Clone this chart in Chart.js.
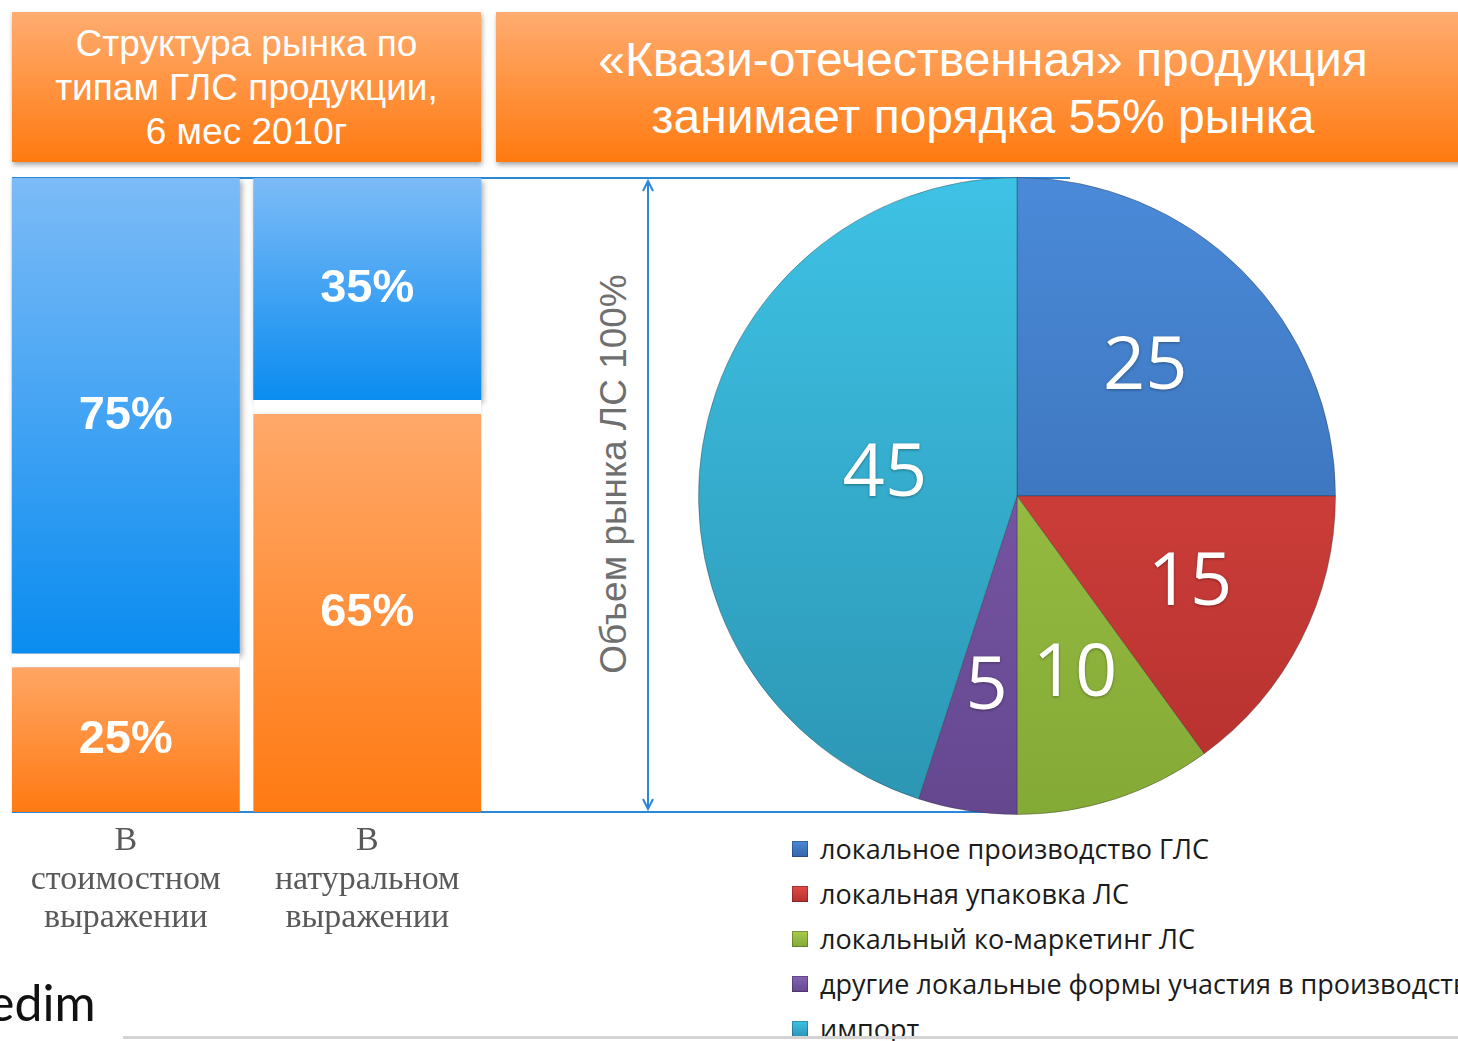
<!DOCTYPE html>
<html>
<head>
<meta charset="utf-8">
<script src="https://cdn.jsdelivr.net/npm/chart.js@4.4.1/dist/chart.umd.min.js"></script>
<style>
  html, body { margin: 0; padding: 0; }
  body { width: 1458px; height: 1041px; overflow: hidden; position: relative; background: #fff; font-family: 'Liberation Sans', Arial, sans-serif; }
  .hdr { position: absolute; top: 12px; height: 150px; box-sizing: border-box; color: #fff; text-align: center; white-space: nowrap;
         background: linear-gradient(#ffac70, #ff7a10); box-shadow: 1px 3px 5px rgba(0,0,0,.35); }
  #hdrL { left: 12px; width: 469px; font-size: 37px; line-height: 44px; padding-top: 10px; }
  #hdrR { left: 496px; width: 974px; font-size: 48px; line-height: 57px; padding-top: 19px; }
  #deco { position: absolute; left: 0; top: 0; }
  #barBox { position: absolute; left: 0; top: 170px; width: 495px; height: 775px; }
  #pieBox { position: absolute; left: 697px; top: 176px; width: 640px; height: 640px; }
  #vlabel { position: absolute; left: 614px; top: 474px; transform: translate(-50%, -50%) rotate(-90deg);
            white-space: nowrap; font-size: 37px; color: #6f6f6f; }
  #legend { position: absolute; left: 792px; top: 826px; font-family: 'Open Sans', sans-serif; font-size: 27px; color: #1b1b1b; white-space: nowrap; }
  .li { height: 45px; display: flex; align-items: center; }
  .sw { width: 16px; height: 16px; margin-right: 12px; flex: none; box-shadow: inset 0 0 0 1px rgba(0,0,0,.25); }
  #logo { position: absolute; left: -12px; top: 972px; font-family: Lato, sans-serif; font-size: 50px; color: #111; }
  #rule { position: absolute; left: 123px; top: 1036px; width: 1335px; height: 3px; background: #d4d4d4; }
</style>
</head>
<body>
<svg id="deco" width="1458" height="1041">
  <g stroke="#2a88dc" stroke-width="2" fill="none">
    <line x1="12" y1="178" x2="1070" y2="178"/>
    <line x1="12" y1="812" x2="1040" y2="812"/>
    <line x1="648" y1="181" x2="648" y2="809"/>
    <polyline points="643,191 648,181 653,191"/>
    <polyline points="643,799 648,809 653,799"/>
  </g>
</svg>

<div class="hdr" id="hdrL">Структура рынка по<br>типам ГЛС продукции,<br>6 мес 2010г</div>
<div class="hdr" id="hdrR">«Квази-отечественная» продукция<br>занимает порядка 55% рынка</div>

<div id="barBox"><canvas id="barChart"></canvas></div>
<div id="vlabel">Объем рынка ЛС 100%</div>
<div id="pieBox"><canvas id="pieChart"></canvas></div>
<div id="legend"></div>

<div id="logo">edim</div>
<div id="rule"></div>

<script>
// left: market structure, two stacked columns
const barCategories = [['В', 'стоимостном', 'выражении'], ['В', 'натуральном', 'выражении']];
const orangeShare = [25, 65];
const blueShare = [75, 35];

// right: pie of the market
const pieLabels = ['локальное производство ГЛС', 'локальная упаковка ЛС', 'локальный ко-маркетинг ЛС',
                   'другие локальные формы участия в производстве ЛС', 'импорт'];
const pieValues = [25, 15, 10, 5, 45];

// styles
const pieColors = [['#4a8ad8', '#3465aa'], ['#e24a45', '#b4302d'], ['#a6ca4c', '#84aa36'], ['#8562b2', '#654790'], ['#3ec2e5', '#2c95b3']];
const pieLabelRadius = [0.57, 0.61, 0.59, 0.61, 0.42];
const gap = 14;

function barFill(top, bottom) {
  return (c) => {
    const chart = c.chart;
    if (!chart.chartArea || c.type !== 'data') return bottom;
    const y = chart.scales.y;
    let start = 0;
    for (let d = 0; d < c.datasetIndex; d++) start += chart.data.datasets[d].data[c.dataIndex];
    const g = chart.ctx.createLinearGradient(0, y.getPixelForValue(start + c.raw), 0, y.getPixelForValue(start));
    g.addColorStop(0, top);
    g.addColorStop(1, bottom);
    return g;
  };
}

const barShadow = {
  id: 'barShadow',
  beforeDatasetsDraw(chart) {
    const ctx = chart.ctx;
    ctx.save();
    ctx.shadowColor = 'rgba(0,0,0,0.35)';
    ctx.shadowBlur = 6;
    ctx.shadowOffsetX = 2;
    ctx.shadowOffsetY = 3;
  },
  afterDatasetsDraw(chart) { chart.ctx.restore(); }
};

const barLabels = {
  id: 'barLabels',
  afterDatasetsDraw(chart) {
    const ctx = chart.ctx;
    ctx.save();
    ctx.fillStyle = '#fff';
    ctx.font = "bold 47px 'Liberation Sans', Arial";
    ctx.textAlign = 'center';
    ctx.textBaseline = 'middle';
    chart.data.datasets.forEach((ds, d) => {
      const off = ds.borderWidth && ds.borderWidth.top ? ds.borderWidth.top : 0;
      chart.getDatasetMeta(d).data.forEach((el, i) => {
        ctx.fillText(ds.data[i] + '%', el.x, (el.y + off + el.base) / 2);
      });
    });
    ctx.restore();
  }
};

new Chart(document.getElementById('barChart'), {
  type: 'bar',
  data: {
    labels: barCategories,
    datasets: [
      { data: orangeShare, backgroundColor: barFill('#ffaa6c', '#ff7a12'), borderColor: '#fff',
        borderWidth: { top: gap, right: 0, bottom: 0, left: 0 }, borderSkipped: false },
      { data: blueShare, backgroundColor: barFill('#7cbbf7', '#0a8cf0'), borderWidth: 0 }
    ]
  },
  options: {
    responsive: true, maintainAspectRatio: false, animation: false,
    layout: { padding: { left: 5, right: 7, top: 8, bottom: 0 } },
    datasets: { bar: { categoryPercentage: 1, barPercentage: 0.944 } },
    plugins: { legend: { display: false }, tooltip: { enabled: false } },
    scales: {
      x: { stacked: true, grid: { display: false, drawTicks: false }, border: { display: false },
           ticks: { color: '#595959', padding: 10, maxRotation: 0, autoSkip: false,
                    font: { family: "'Liberation Serif', 'Times New Roman', serif", size: 34, lineHeight: 1.13 } },
           afterFit: (s) => { s.height = 133; } },
      y: { stacked: true, display: false, min: 0, max: 100 }
    }
  },
  plugins: [barShadow, barLabels]
});

const pieLabelsPlugin = {
  id: 'pieLabels',
  afterDatasetsDraw(chart) {
    const ctx = chart.ctx;
    ctx.save();
    ctx.fillStyle = '#fff';
    ctx.font = "74px 'Open Sans', sans-serif";
    ctx.textAlign = 'center';
    ctx.textBaseline = 'middle';
    ctx.shadowColor = 'rgba(0,0,0,0.35)';
    ctx.shadowBlur = 3;
    ctx.shadowOffsetY = 1;
    chart.getDatasetMeta(0).data.forEach((arc, i) => {
      const mid = (arc.startAngle + arc.endAngle) / 2;
      const r = arc.outerRadius * pieLabelRadius[i];
      ctx.fillText(String(pieValues[i]), arc.x + Math.cos(mid) * r, arc.y + Math.sin(mid) * r);
    });
    ctx.restore();
  }
};

new Chart(document.getElementById('pieChart'), {
  type: 'pie',
  data: {
    labels: pieLabels,
    datasets: [{
      data: pieValues,
      backgroundColor: (c) => {
        const a = c.chart.chartArea;
        const pair = pieColors[c.dataIndex];
        if (!a) return pair[1];
        const g = c.chart.ctx.createLinearGradient(0, a.top, 0, a.bottom);
        g.addColorStop(0, pair[0]);
        g.addColorStop(1, pair[1]);
        return g;
      },
      borderColor: 'rgba(40,40,40,0.35)',
      borderWidth: 1
    }]
  },
  options: {
    responsive: true, maintainAspectRatio: false, animation: false,
    layout: { padding: 1 },
    plugins: { legend: { display: false }, tooltip: { enabled: false } }
  },
  plugins: [pieLabelsPlugin]
});

// legend built from the pie series
const legend = document.getElementById('legend');
pieLabels.forEach((name, i) => {
  const row = document.createElement('div');
  row.className = 'li';
  const sw = document.createElement('span');
  sw.className = 'sw';
  sw.style.background = 'linear-gradient(' + pieColors[i][0] + ', ' + pieColors[i][1] + ')';
  row.appendChild(sw);
  row.appendChild(document.createTextNode(name));
  legend.appendChild(row);
});
</script>
</body>
</html>
